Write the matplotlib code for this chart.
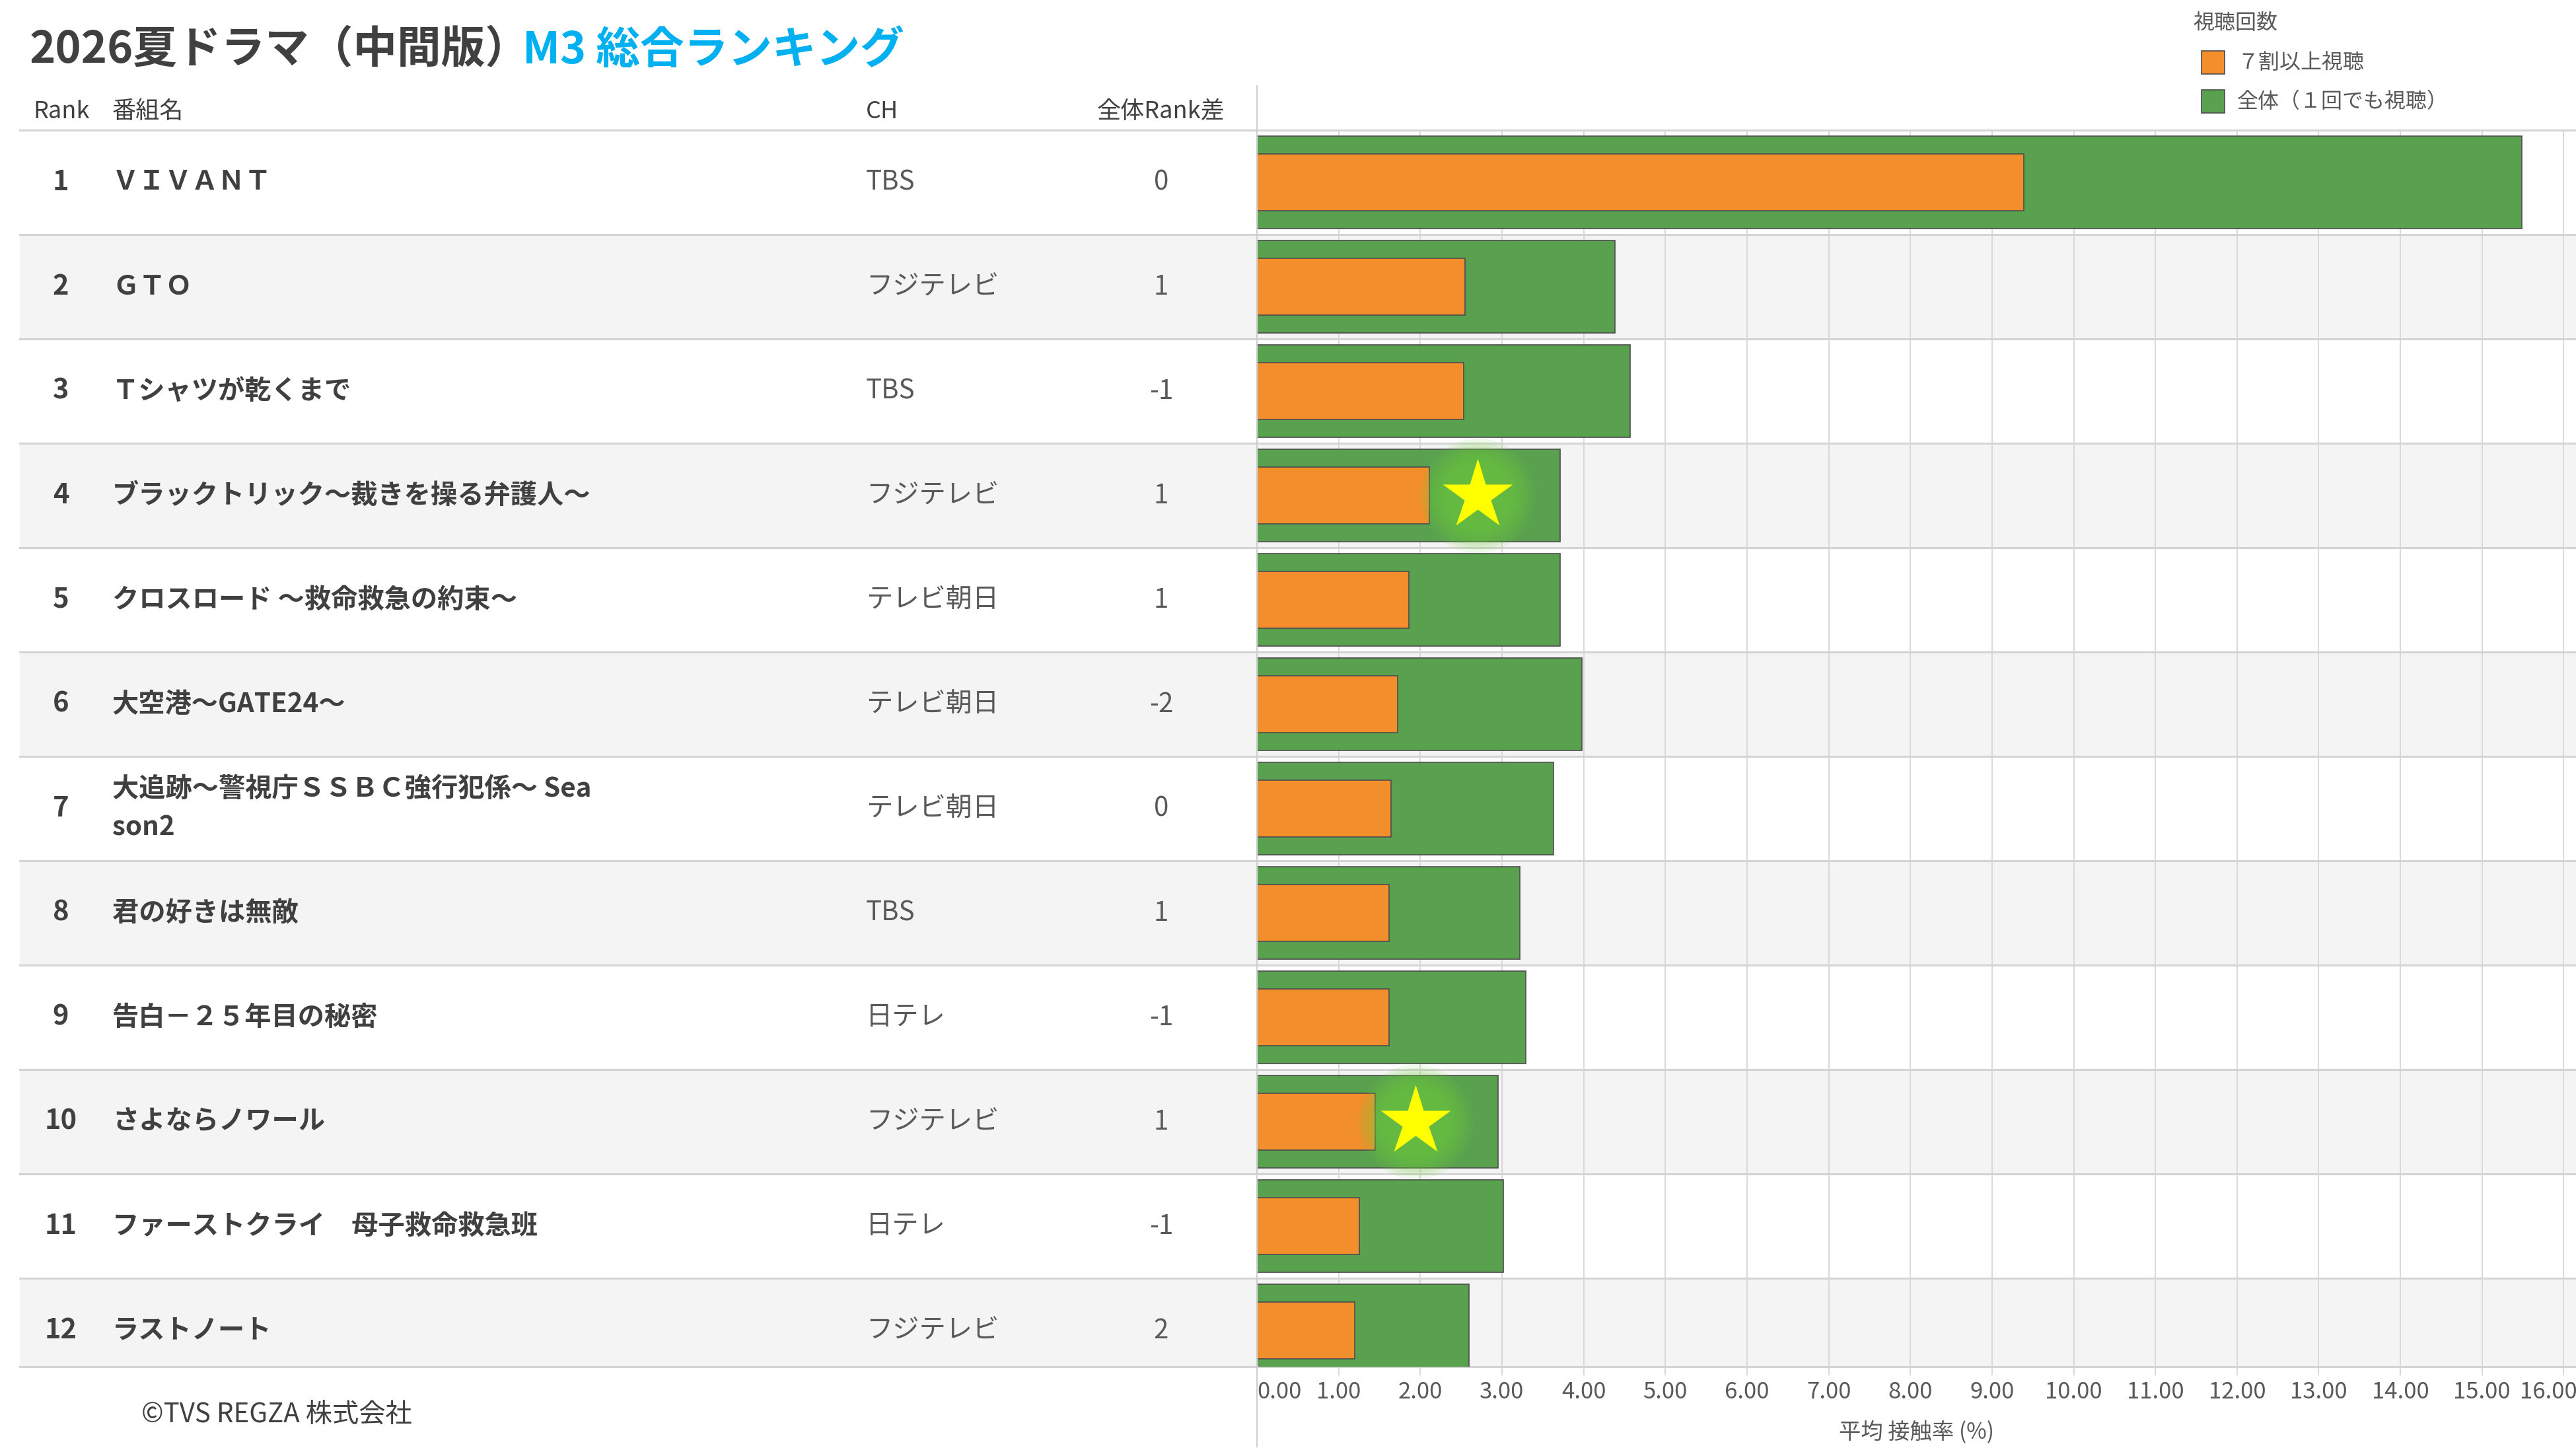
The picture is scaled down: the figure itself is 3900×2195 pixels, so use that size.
import matplotlib

matplotlib.use("Agg")
import matplotlib.pyplot as plt  # noqa: E402
import numpy as np  # noqa: E402
from matplotlib.lines import Line2D  # noqa: E402
from matplotlib.patches import Rectangle  # noqa: E402
from matplotlib.transforms import ScaledTranslation  # noqa: E402

plt.rcParams["font.family"] = ["Noto Sans CJK JP", "DejaVu Sans"]

# ---- data ----
RANKS = list(range(1, 13))
TITLES = [
    "ＶＩＶＡＮＴ",
    "ＧＴＯ",
    "Ｔシャツが乾くまで",
    "ブラックトリック～裁きを操る弁護人～",
    "クロスロード ～救命救急の約束～",
    "大空港～GATE24～",
    "大追跡～警視庁ＳＳＢＣ強行犯係～ Sea\nson2",
    "君の好きは無敵",
    "告白－２５年目の秘密",
    "さよならノワール",
    "ファーストクライ　母子救命救急班",
    "ラストノート",
]
CHANNELS = [
    "TBS", "フジテレビ", "TBS", "フジテレビ", "テレビ朝日", "テレビ朝日",
    "テレビ朝日", "TBS", "日テレ", "フジテレビ", "日テレ", "フジテレビ",
]
RANK_DIFF = [0, 1, -1, 1, 1, -2, 0, 1, -1, 1, -1, 2]
TOTAL = [15.49, 4.38, 4.57, 3.71, 3.71, 3.98, 3.63, 3.22, 3.29, 2.95, 3.02, 2.60]
SEVENTY = [9.39, 2.55, 2.53, 2.11, 1.86, 1.72, 1.64, 1.62, 1.62, 1.45, 1.25, 1.20]
STAR_RANKS = [4, 10]
STAR_X = [2.70, 1.94]
X_TICKS = np.arange(0, 17)

ORANGE = "#F28E2B"
GREEN = "#59A14F"
EDGE = "#4d4d4d"
BAND = "#f4f4f4"
LINE = "#d4d4d4"
DARK = "#404040"
MID = "#595959"

W, H = 3900, 2195
TOP, BOTTOM = 197, 2069
AXIS_X, TABLE_X = 1903, 30
ROW_PX = 158


def fx(px):
    return px / W


def fy(py):
    return 1 - py / H


fig = plt.figure(figsize=(W / 100, H / 100), dpi=100)
fig.patch.set_facecolor("white")

height = (BOTTOM - TOP) / H
ax = fig.add_axes([fx(AXIS_X), fy(BOTTOM), (W - AXIS_X) / W, height])
ax_tab = fig.add_axes([fx(TABLE_X), fy(BOTTOM), (AXIS_X - TABLE_X) / W, height], sharey=ax)

y = np.arange(len(RANKS))
ax.set_ylim(-0.5 + (BOTTOM - TOP) / ROW_PX, -0.5)
ax.set_xlim(0, 16.15)
ax_tab.set_xlim(TABLE_X, AXIS_X)

for a in (ax, ax_tab):
    for s in a.spines.values():
        s.set_visible(False)
    for i in y[1::2]:
        a.axhspan(i - 0.5, i + 0.5, color=BAND, zorder=0, lw=0)
    for i in y:
        a.axhline(i - 0.5, color=LINE, lw=2.2, zorder=1, clip_on=False)
    a.axhline(a.get_ylim()[0], color=LINE, lw=2.2, zorder=1, clip_on=False)

ax_tab.set_xticks([])
ax_tab.set_yticks([])

# bars
ax.barh(y, TOTAL, height=0.88, color=GREEN, edgecolor=EDGE, linewidth=1.2, zorder=2)
ax.barh(y, SEVENTY, height=0.55, color=ORANGE, edgecolor=EDGE, linewidth=1.2, zorder=3)

# stars with a soft glow
star_y = [RANKS.index(r) for r in STAR_RANKS]
for ms in np.linspace(125, 70, 8):
    ax.plot(STAR_X, star_y, "o", ms=ms, color="#72d23a", alpha=0.10, mec="none", zorder=4)
ax.plot(STAR_X, star_y, "*", ms=80, color="#FFFF00", mec="none", zorder=5)

# x axis
ax.set_xticks(X_TICKS)
ax.set_xticklabels([f"{v:.2f}" for v in X_TICKS])
ax.set_yticks([])
ax.tick_params(axis="x", length=9, width=1.4, color="#d9d9d9", pad=6,
               labelsize=25, labelcolor=MID)
tick_labels = ax.get_xticklabels()
tick_labels[0].set_horizontalalignment("left")
tick_labels[-1].set_horizontalalignment("right")
tick_labels[-1].set_transform(tick_labels[-1].get_transform()
                              + ScaledTranslation(0.2, 0, fig.dpi_scale_trans))
ax.xaxis.grid(True, color="#d9d9d9", lw=1.4)
ax.set_axisbelow(True)
ax.set_xlabel("平均 接触率 (%)", fontsize=24, color=MID, labelpad=18)

# table columns
for i, (rank, title, ch, diff) in enumerate(zip(RANKS, TITLES, CHANNELS, RANK_DIFF)):
    ax_tab.text(92, i, str(rank), ha="center", va="center", fontsize=30,
                fontweight="bold", color=DARK)
    ax_tab.text(170, i, title, ha="left", va="center", fontsize=29,
                fontweight="bold", color=DARK, linespacing=1.55)
    ax_tab.text(1311, i, ch, ha="left", va="center", fontsize=29, color=MID)
    ax_tab.text(1758, i, str(diff), ha="center", va="center", fontsize=29, color=MID)

# header
for px, label, ha in [(50, "Rank", "left"), (170, "番組名", "left"),
                      (1311, "CH", "left"), (1758, "全体Rank差", "center")]:
    fig.text(fx(px), fy(169), label, ha=ha, va="center", fontsize=26, color=DARK)

# title
fig.text(fx(45), fy(76), "2026夏ドラマ（中間版）", ha="left", va="center",
         fontsize=48, fontweight="bold", color=DARK)
fig.text(fx(791), fy(76), "M3 総合ランキング", ha="left", va="center",
         fontsize=48, fontweight="bold", color="#00B0F0")

# vertical axis line through the header
fig.add_artist(Line2D([fx(AXIS_X), fx(AXIS_X)], [fy(130), fy(2190)],
                      color="#d0d0d0", lw=1.6))

# legend
fig.text(fx(3320), fy(35), "視聴回数", ha="left", va="center", fontsize=23, color=MID)
for py, color, label in [(95, ORANGE, "７割以上視聴"), (154, GREEN, "全体（１回でも視聴）")]:
    fig.add_artist(Rectangle((fx(3333), fy(py + 17)), 35 / W, 35 / H,
                             facecolor=color, edgecolor=EDGE, lw=1.2))
    fig.text(fx(3387), fy(py), label, ha="left", va="center", fontsize=23, color=MID)

# footer
fig.text(fx(214), fy(2141), "©TVS REGZA 株式会社", ha="left", va="center",
         fontsize=29, color=DARK)

fig.savefig("out.png", dpi=100)
plt.close(fig)
